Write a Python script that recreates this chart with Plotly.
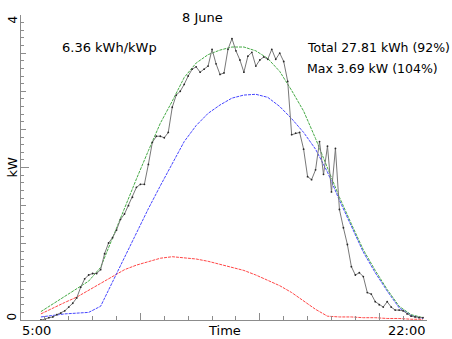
import plotly.graph_objects as go

# ---- data (kW), sampled every 10 minutes from 5:50 to 21:50 ----
start_hour = 5 + 50 / 60
measured_kw = [
    0.00, 0.01, 0.03, 0.04, 0.07, 0.09, 0.12, 0.17, 0.22, 0.29,
    0.43, 0.54, 0.59, 0.61, 0.61, 0.66, 0.87, 1.01, 1.08, 1.18,
    1.32, 1.39, 1.50, 1.61, 1.74, 1.78, 1.78, 2.04, 2.33, 2.41,
    2.41, 2.39, 2.46, 2.79, 2.95, 3.00, 3.09, 3.20, 3.29, 3.32,
    3.25, 3.29, 3.33, 3.55, 3.36, 3.22, 3.24, 3.55, 3.69, 3.53,
    3.41, 3.25, 3.46, 3.51, 3.33, 3.41, 3.45, 3.42, 3.55, 3.42,
    3.50, 3.39, 3.13, 2.43, 2.45, 2.46, 2.24, 1.88, 1.84, 1.97,
    2.34, 1.91, 2.28, 1.68, 2.25, 1.45, 1.21, 0.99, 0.70, 0.59,
    0.62, 0.57, 0.36, 0.34, 0.24, 0.20, 0.17, 0.24, 0.17, 0.13,
    0.13, 0.12, 0.08, 0.05, 0.04, 0.03, 0.03,
]
measured_hours = [start_hour + i / 6 for i in range(len(measured_kw))]

# ---- modelled curves, sampled every 30 minutes from 5:50 to 21:50 ----
total_kw = [
    0.11, 0.21, 0.31, 0.41, 0.51, 0.69, 1.08, 1.46, 1.85, 2.22,
    2.58, 2.87, 3.18, 3.37, 3.48, 3.54, 3.58, 3.58, 3.53, 3.43,
    3.26, 3.01, 2.74, 2.38, 1.99, 1.61, 1.26, 0.92, 0.65, 0.40,
    0.18, 0.07, 0.03,
]
beam_kw = [
    0.04, 0.06, 0.08, 0.09, 0.10, 0.18, 0.50, 0.82, 1.15, 1.46,
    1.76, 2.04, 2.34, 2.55, 2.71, 2.82, 2.91, 2.95, 2.96, 2.92,
    2.80, 2.64, 2.46, 2.24, 1.94, 1.57, 1.22, 0.89, 0.62, 0.38,
    0.16, 0.06, 0.02,
]
diffuse_kw = [
    0.08, 0.16, 0.23, 0.30, 0.39, 0.47, 0.56, 0.66, 0.72, 0.77,
    0.81, 0.83, 0.82, 0.80, 0.77, 0.73, 0.70, 0.65, 0.59, 0.52,
    0.45, 0.36, 0.25, 0.14, 0.05, 0.04, 0.04, 0.03, 0.03, 0.02,
    0.02, 0.01, 0.01,
]
model_hours = [start_hour + i / 2 for i in range(len(total_kw))]

title_text = "8 June"
yield_text = "6.36 kWh/kWp"
total_text = "Total 27.81 kWh (92%)"
max_text = "Max 3.69 kW (104%)"
x_labels = ["5:00", "Time", "22:00"]
y_labels = ["0", "4"]
y_title = "kW"

FONT = "DejaVu Sans"
AXIS_COLOR = "#8c8c8c"

fig = go.Figure()

def add_curve(x, y, color, dash, mode, mcolor=None, msize=0):
    fig.add_trace(go.Scatter(
        x=x, y=y, mode=mode,
        line=dict(color=color, width=1, dash=dash),
        marker=dict(color=mcolor or color, size=msize),
        showlegend=False, hoverinfo="skip",
    ))

add_curve(model_hours, diffuse_kw, "rgb(255,70,70)", "3px,1px", "lines")
add_curve(model_hours, beam_kw, "rgb(70,70,255)", "3px,1px", "lines")
add_curve(model_hours, total_kw, "rgb(70,170,70)", "3px,1px", "lines")
add_curve(measured_hours, measured_kw, "rgb(120,120,120)", "solid", "lines+markers",
          "rgb(40,40,40)", 1.8)

# invisible trace on overlay axis so it renders
fig.add_trace(go.Scatter(x=[5], y=[0], yaxis="y2", mode="markers",
                         marker=dict(opacity=0), showlegend=False, hoverinfo="skip"))

fig.update_layout(
    width=452, height=339,
    margin=dict(l=21, r=25, t=15, b=19),
    paper_bgcolor="white", plot_bgcolor="white",
    font=dict(family=FONT, size=13, color="black"),
    xaxis=dict(
        range=[5, 22], showgrid=False, zeroline=False,
        showline=True, linecolor=AXIS_COLOR, linewidth=1,
        ticks="inside", tickvals=[5, 10, 15, 20], ticklen=7, tickcolor=AXIS_COLOR,
        showticklabels=False,
        minor=dict(tickvals=list(range(5, 23)), ticklen=4, tickcolor=AXIS_COLOR, ticks="inside"),
    ),
    yaxis=dict(
        range=[0, 4], showgrid=False, zeroline=False,
        showline=True, linecolor=AXIS_COLOR, linewidth=1,
        ticks="inside", tickvals=[0, 2, 4], ticklen=8, tickcolor=AXIS_COLOR,
        showticklabels=False,
        minor=dict(tickvals=[i * 0.5 for i in range(9)], ticklen=5,
                   tickcolor=AXIS_COLOR, ticks="inside"),
    ),
    yaxis2=dict(
        range=[0, 4], overlaying="y", side="left", anchor="x",
        showgrid=False, zeroline=False, showline=False,
        ticks="inside", tickvals=[round(i * 0.1, 1) for i in range(41)], ticklen=3,
        tickcolor=AXIS_COLOR, showticklabels=False,
    ),
)

def note(text, x, y, xanchor="left", yanchor="middle", angle=0, size=13):
    fig.add_annotation(text=text, x=x, y=y, xref="paper", yref="paper",
                       xanchor=xanchor, yanchor=yanchor, textangle=angle,
                       showarrow=False, font=dict(family=FONT, size=size, color="black"))

note(title_text, 0.448, 0.993, xanchor="center")
note(yield_text, 0.097, 0.895)
note(total_text, 0.700, 0.895, size=12.5)
note(max_text, 0.700, 0.823, size=12.5)
note(x_labels[0], -0.003, -0.033, xanchor="left")
note(x_labels[1], 0.5, -0.033, xanchor="center")
note(x_labels[2], 1.0, -0.033, xanchor="right")
note(y_title, -0.022, 0.5, xanchor="center", angle=-90)
note(y_labels[0], -0.021, 0.013, xanchor="center", angle=-90, size=12)
note(y_labels[1], -0.021, 0.987, xanchor="center", angle=-90, size=12)

fig.write_html("out.html")
